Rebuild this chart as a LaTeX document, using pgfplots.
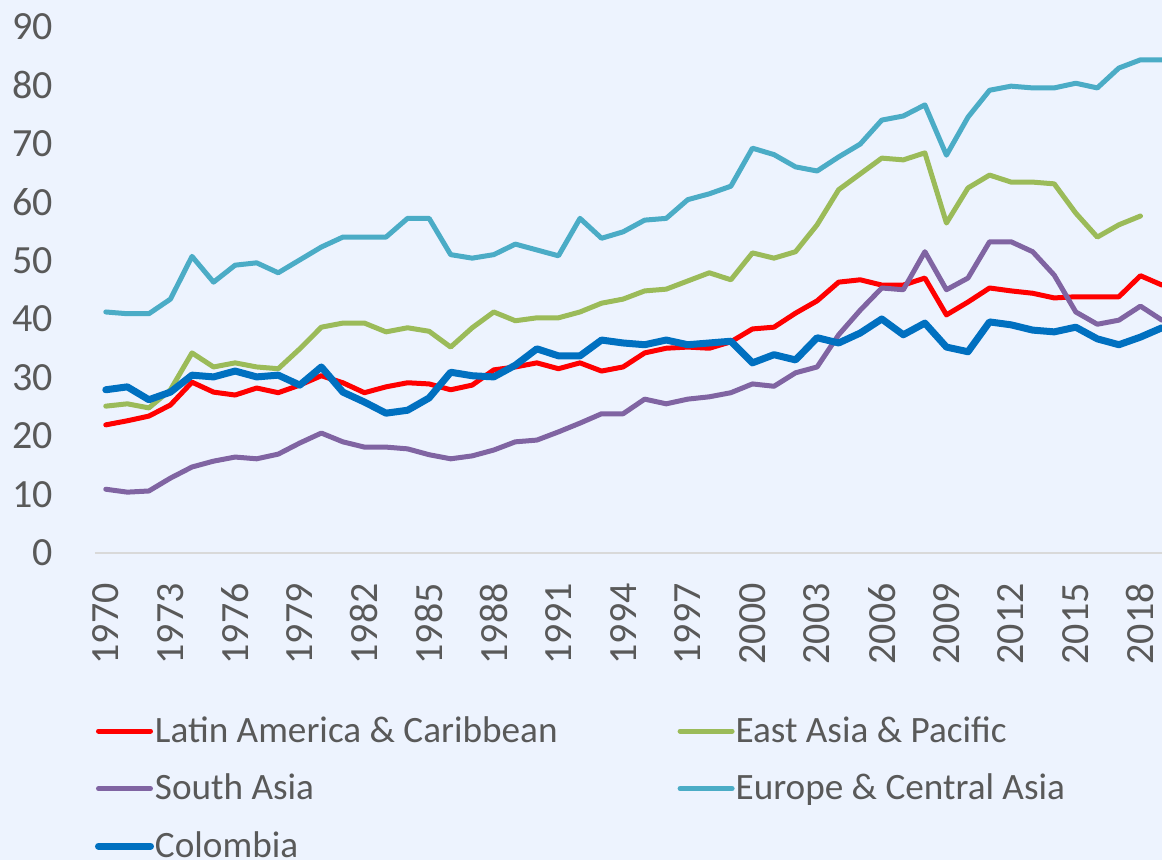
\documentclass[border=0pt]{standalone}
\usepackage{pgfplots}
\usepackage{pgfplotstable}
\pgfplotsset{compat=1.18}
\usepackage{fontspec}
\setmainfont{Carlito}
\definecolor{bgc}{HTML}{EDF3FE}
\definecolor{txt}{HTML}{595959}
\definecolor{cLAC}{HTML}{FF0000}
\definecolor{cEAP}{HTML}{9BBB59}
\definecolor{cSA}{HTML}{8064A2}
\definecolor{cECA}{HTML}{4BACC6}
\definecolor{cCOL}{HTML}{0070C0}
\pgfplotstableread{
year lac eap sa eca col
1970 21.9 25.1 10.9 41.2 27.9
1971 22.6 25.5 10.4 40.9 28.4
1972 23.4 24.8 10.6 40.9 26.2
1973 25.3 27.9 12.8 43.4 27.5
1974 29.2 34.2 14.7 50.7 30.4
1975 27.5 31.8 15.7 46.3 30.1
1976 27.0 32.5 16.4 49.2 31.1
1977 28.2 31.8 16.1 49.6 30.1
1978 27.4 31.5 16.9 47.9 30.4
1979 28.7 34.9 18.8 50.1 28.7
1980 30.3 38.6 20.5 52.3 31.8
1981 29.1 39.3 19.0 54.0 27.5
1982 27.4 39.3 18.1 54.0 25.8
1983 28.4 37.8 18.1 54.0 23.9
1984 29.1 38.5 17.8 57.2 24.4
1985 28.9 37.9 16.8 57.2 26.5
1986 27.9 35.2 16.1 51.0 30.9
1987 28.7 38.5 16.6 50.4 30.3
1988 31.3 41.2 17.6 51.0 30.1
1989 31.8 39.7 19.0 52.8 32.1
1990 32.5 40.2 19.3 51.8 34.9
1991 31.5 40.2 20.7 50.8 33.7
1992 32.5 41.2 22.2 57.2 33.7
1993 31.1 42.7 23.8 53.8 36.4
1994 31.8 43.4 23.8 54.9 35.9
1995 34.2 44.8 26.3 56.9 35.6
1996 35.0 45.1 25.5 57.2 36.4
1997 35.2 46.5 26.3 60.4 35.6
1998 35.0 47.9 26.7 61.4 35.9
1999 36.1 46.7 27.4 62.7 36.2
2000 38.3 51.3 28.9 69.2 32.5
2001 38.6 50.4 28.5 68.1 33.9
2002 41.0 51.5 30.8 66.0 33.0
2003 43.1 56.1 31.8 65.3 36.8
2004 46.3 62.1 37.3 67.7 35.9
2005 46.7 64.8 41.5 69.9 37.6
2006 45.8 67.5 45.3 74.0 40.0
2007 45.8 67.2 45.0 74.7 37.3
2008 47.0 68.4 51.5 76.6 39.3
2009 40.7 56.4 45.0 68.0 35.2
2010 42.9 62.4 47.0 74.5 34.4
2011 45.3 64.6 53.2 79.1 39.5
2012 44.8 63.4 53.2 79.8 39.0
2013 44.4 63.4 51.5 79.5 38.1
2014 43.6 63.1 47.5 79.5 37.8
2015 43.8 58.1 41.2 80.3 38.6
2016 43.8 54.0 39.1 79.5 36.6
2017 43.8 56.1 39.8 82.9 35.6
2018 47.4 57.6 42.2 84.3 36.9
2019 45.8 nan 39.8 84.3 38.5
}\datatable
\begin{document}
\begin{tikzpicture}
\useasboundingbox (0,0) rectangle (581pt,430pt);
\fill[bgc] (0,0) rectangle (581pt,430pt);
\begin{axis}[
  at={(47.5pt,153.5pt)}, anchor=south west,
  scale only axis, width=533.5pt, height=263.25pt,
  xmin=1969.5, xmax=2019, ymin=0, ymax=90,
  axis x line*=bottom, axis y line*=left,
  x axis line style={draw=black!15, line width=1pt, -},
  y axis line style={draw=none},
  major tick length=0pt,
  xtick={1970,1973,...,2018},
  ytick={0,10,...,90},
  /pgf/number format/1000 sep={},
  /pgf/number format/assume math mode=true,
  tick label style={font=\fontsize{20}{24}\selectfont, text=txt},
  xticklabel style={rotate=90, anchor=east, inner sep=0pt},
  yticklabel style={anchor=east, inner sep=0pt},
  xticklabel shift=15pt,
  yticklabel shift=21pt,
  every axis plot/.append style={line join=round, line cap=round},
  legend columns=2,
  legend cell align=left,
  legend style={at={(0,-0.306)}, anchor=north west, draw=none, fill=none,
    inner sep=0pt, outer sep=0pt,
    font=\fontsize{18.6}{22}\selectfont, text=txt,
    nodes={inner sep=0pt, text height=14pt, text depth=4pt},
    row sep=10.75pt,
    /tikz/every odd column/.append style={column sep=0.5pt},
    /tikz/every even column/.append style={column sep=60pt}},
  legend image code/.code={\draw[#1] (0pt,0.5pt) -- (26pt,0.5pt);},
]
\addplot[cLAC, line width=2.5pt] table[x=year, y=lac] {\datatable};
\addlegendentry{Latin America \& Caribbean}
\addplot[cEAP, line width=2.5pt] table[x=year, y=eap] {\datatable};
\addlegendentry{East Asia \& Pacific}
\addplot[cSA, line width=2.5pt] table[x=year, y=sa] {\datatable};
\addlegendentry{South Asia}
\addplot[cECA, line width=2.5pt] table[x=year, y=eca] {\datatable};
\addlegendentry{Europe \& Central Asia}
\addplot[cCOL, line width=3.5pt] table[x=year, y=col] {\datatable};
\addlegendentry{Colombia}
\end{axis}
\end{tikzpicture}
\end{document}
